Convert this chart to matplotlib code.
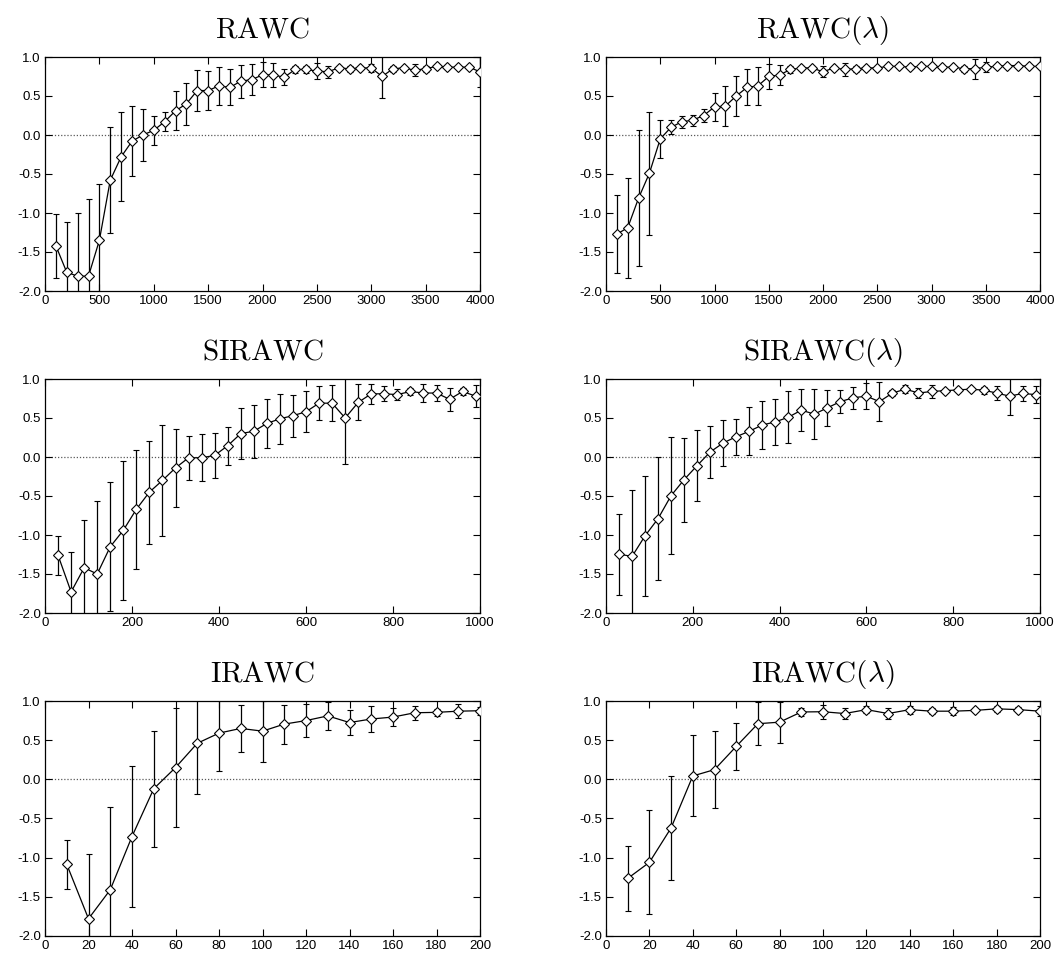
"""Six panels of mean score vs. training effort, with error bars (gnuplot look)."""
import numpy as np
import matplotlib
matplotlib.use("Agg")
import matplotlib.pyplot as plt

plt.rcParams["font.family"] = ["Liberation Sans", "DejaVu Sans"]
plt.rcParams["mathtext.fontset"] = "cm"
plt.rcParams["axes.unicode_minus"] = False

# RAWC / RAWC(lambda): x = 100 .. 4000
x_rawc = list(range(100, 4001, 100))
rawc_y = [-1.42, -1.76, -1.81, -1.81, -1.35, -0.58, -0.28, -0.08, 0.00, 0.06,
          0.17, 0.31, 0.40, 0.57, 0.57, 0.63, 0.61, 0.69, 0.71, 0.77,
          0.77, 0.74, 0.84, 0.84, 0.82, 0.81, 0.86, 0.85, 0.86, 0.86,
          0.75, 0.85, 0.86, 0.83, 0.85, 0.88, 0.87, 0.87, 0.87, 0.81]
rawc_err = [0.41, 0.64, 0.81, 0.99, 0.72, 0.68, 0.57, 0.45, 0.33, 0.19,
            0.12, 0.25, 0.27, 0.26, 0.25, 0.24, 0.23, 0.21, 0.20, 0.16,
            0.15, 0.10, 0.04, 0.05, 0.10, 0.08, 0.03, 0.04, 0.02, 0.05,
            0.27, 0.04, 0.02, 0.08, 0.04, 0.01, 0.03, 0.01, 0.01, 0.19]
rawcl_y = [-1.27, -1.19, -0.81, -0.49, -0.05, 0.10, 0.17, 0.19, 0.25, 0.36,
           0.37, 0.50, 0.61, 0.63, 0.75, 0.77, 0.84, 0.86, 0.86, 0.81,
           0.86, 0.84, 0.85, 0.86, 0.86, 0.88, 0.88, 0.87, 0.88, 0.88,
           0.87, 0.87, 0.85, 0.85, 0.87, 0.88, 0.89, 0.89, 0.88, 0.88]
rawcl_err = [0.50, 0.64, 0.87, 0.79, 0.24, 0.09, 0.08, 0.07, 0.08, 0.18,
             0.26, 0.25, 0.23, 0.24, 0.16, 0.13, 0.04, 0.03, 0.03, 0.07,
             0.03, 0.08, 0.04, 0.03, 0.02, 0.015, 0.025, 0.03, 0.02, 0.01,
             0.01, 0.02, 0.04, 0.13, 0.06, 0.01, 0.01, 0.01, 0.01, 0.01]

# SIRAWC / SIRAWC(lambda): x = 30 .. 990
x_sirawc = list(range(30, 991, 30))
sirawc_y = [-1.26, -1.73, -1.42, -1.50, -1.15, -0.94, -0.67, -0.45, -0.30, -0.14,
            -0.01, -0.01, 0.02, 0.145, 0.30, 0.33, 0.43, 0.49, 0.53, 0.58,
            0.69, 0.69, 0.50, 0.70, 0.81, 0.81, 0.80, 0.84, 0.82, 0.82,
            0.74, 0.84, 0.78]
sirawc_err = [0.25, 0.51, 0.61, 0.93, 0.83, 0.89, 0.76, 0.66, 0.71, 0.50,
              0.28, 0.30, 0.29, 0.245, 0.33, 0.34, 0.31, 0.32, 0.27, 0.26,
              0.22, 0.23, 0.59, 0.23, 0.13, 0.095, 0.075, 0.045, 0.11, 0.10,
              0.15, 0.05, 0.14]
sirawcl_y = [-1.245, -1.275, -1.01, -0.79, -0.495, -0.29, -0.11, 0.064, 0.18, 0.26,
             0.33, 0.41, 0.45, 0.51, 0.60, 0.55, 0.63, 0.71, 0.76, 0.78,
             0.71, 0.82, 0.87, 0.82, 0.84, 0.85, 0.86, 0.87, 0.857, 0.82,
             0.78, 0.815, 0.80]
sirawcl_err = [0.52, 0.85, 0.77, 0.79, 0.75, 0.54, 0.45, 0.33, 0.30, 0.23,
               0.31, 0.31, 0.30, 0.335, 0.27, 0.325, 0.235, 0.15, 0.14, 0.17,
               0.25, 0.035, 0.055, 0.065, 0.085, 0.025, 0.03, 0.02, 0.045, 0.09,
               0.24, 0.10, 0.11]

# IRAWC / IRAWC(lambda): x = 10 .. 200
x_irawc = list(range(10, 201, 10))
irawc_y = [-1.085, -1.78, -1.41, -0.73, -0.12, 0.15, 0.46, 0.59, 0.65, 0.615,
           0.705, 0.75, 0.81, 0.725, 0.77, 0.795, 0.85, 0.855, 0.87, 0.876]
irawc_err = [0.31, 0.83, 1.06, 0.905, 0.74, 0.76, 0.65, 0.48, 0.30, 0.39,
             0.25, 0.21, 0.18, 0.16, 0.165, 0.12, 0.09, 0.045, 0.09, 0.05]
irawcl_y = [-1.265, -1.06, -0.62, 0.043, 0.124, 0.42, 0.71, 0.73, 0.86, 0.863,
            0.84, 0.89, 0.84, 0.89, 0.87, 0.87, 0.88, 0.90, 0.89, 0.87]
irawcl_err = [0.42, 0.665, 0.66, 0.517, 0.49, 0.295, 0.275, 0.26, 0.05, 0.09,
              0.07, 0.045, 0.07, 0.05, 0.035, 0.05, 0.025, 0.04, 0.03, 0.06]

panels = [
    (r"$\mathrm{RAWC}$", x_rawc, rawc_y, rawc_err, 4000, 500),
    (r"$\mathrm{RAWC}(\lambda)$", x_rawc, rawcl_y, rawcl_err, 4000, 500),
    (r"$\mathrm{SIRAWC}$", x_sirawc, sirawc_y, sirawc_err, 1000, 200),
    (r"$\mathrm{SIRAWC}(\lambda)$", x_sirawc, sirawcl_y, sirawcl_err, 1000, 200),
    (r"$\mathrm{IRAWC}$", x_irawc, irawc_y, irawc_err, 200, 20),
    (r"$\mathrm{IRAWC}(\lambda)$", x_irawc, irawcl_y, irawcl_err, 200, 20),
]

W, H = 1058, 961
fig = plt.figure(figsize=(W / 100, H / 100), dpi=100)

# axes boxes in pixels: (left, top, right, bottom)
cols = [(45, 480), (606, 1040)]
rows = [(57, 291), (379, 613), (701, 936)]

for i, (title, x, y, err, xmax, xstep) in enumerate(panels):
    l, r = cols[i % 2]
    t, b = rows[i // 2]
    ax = fig.add_axes([l / W, 1 - b / H, (r - l) / W, (b - t) / H])
    ax.axhline(0, color="0.35", lw=0.9, ls=(0, (1, 1.5)), zorder=1)
    ax.errorbar(x, y, yerr=err, color="black", lw=0.9, elinewidth=0.9,
                capsize=2.5, capthick=0.9, marker="D", markersize=4.8,
                mfc="white", mec="black", mew=0.8, zorder=3)
    ax.set_xlim(0, xmax)
    ax.set_ylim(-2.0, 1.0)
    ax.set_xticks(np.arange(0, xmax + 1, xstep))
    ax.set_yticks(np.arange(-2.0, 1.01, 0.5))
    ax.yaxis.set_major_formatter(matplotlib.ticker.FormatStrFormatter("%.1f"))
    ax.tick_params(direction="in", top=True, right=True, length=5,
                   width=0.8, labelsize=9.5, pad=3)
    for s in ax.spines.values():
        s.set_linewidth(0.9)
    ax.set_title(title, fontsize=21, pad=14)

fig.savefig("out.png", dpi=100)
